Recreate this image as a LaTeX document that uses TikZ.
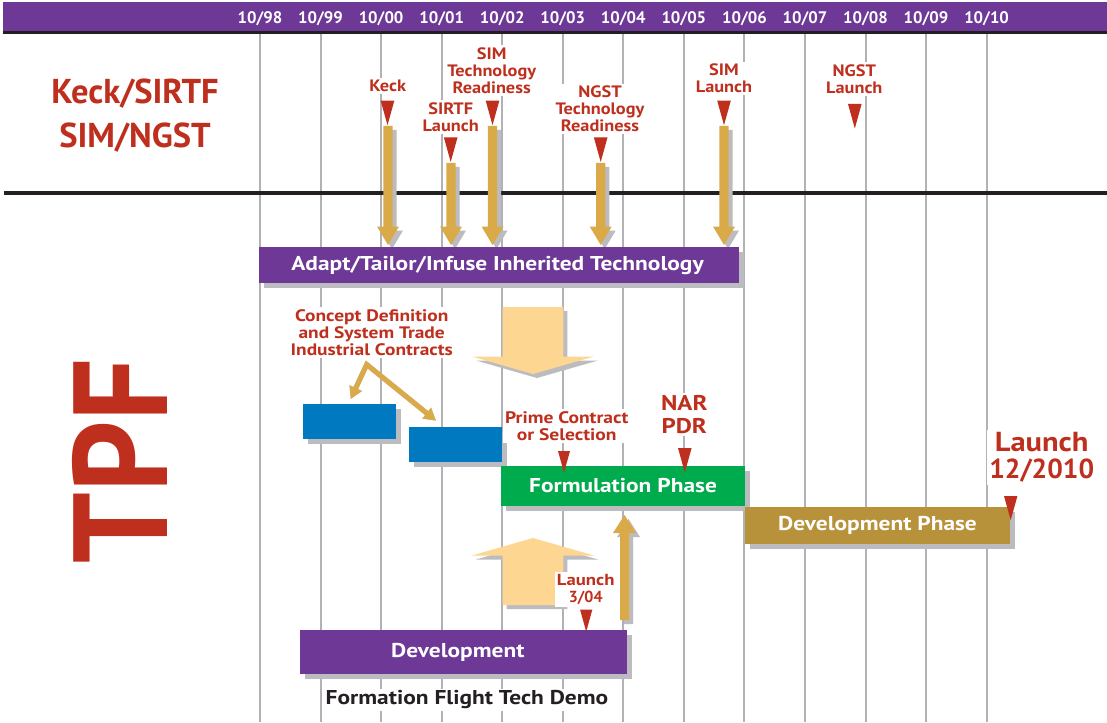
\documentclass[tikz,border=0pt]{standalone}
\usepackage{fontspec}
\setmainfont{PT Sans}
\newfontfamily\wf{PT Sans}[FakeStretch=1.17]
\newfontfamily\wfa{PT Sans}[FakeStretch=1.11]
\newfontfamily\tpffont{PT Sans}[FakeStretch=0.93]
\usetikzlibrary{arrows.meta,shadows}
\definecolor{tppurple}{RGB}{110,56,150}
\definecolor{tpred}{RGB}{190,47,29}
\definecolor{tpgold}{RGB}{218,170,72}
\definecolor{tppale}{RGB}{253,214,146}
\definecolor{tpblue}{RGB}{0,121,193}
\definecolor{tpgreen}{RGB}{0,171,78}
\definecolor{tpbrown}{RGB}{184,145,59}
\definecolor{shd}{RGB}{188,188,192}
\definecolor{gridc}{RGB}{178,178,182}
\definecolor{darkline}{RGB}{35,31,35}
\newcommand\fs[2]{\fontsize{#1}{#2}\selectfont}
\newcommand\tridown[3]{\fill[tpred] ({#1-#3/2},#2) -- ({#1+#3/2},#2) -- (#1,{#2+1.8*#3}) -- cycle;}
\newcommand\gdownpath[3]{({#1-4.7},#2) -- ({#1+4.7},#2) -- ({#1+4.7},{#3-18.5}) -- ({#1+11},{#3-18.5}) -- (#1,#3) -- ({#1-11},{#3-18.5}) -- ({#1-4.7},{#3-18.5}) -- cycle}
\newcommand\gdown[3]{\fill[shd,shift={(4,4)}] \gdownpath{#1}{#2}{#3}; \fill[tpgold] \gdownpath{#1}{#2}{#3};}
\begin{document}
\begin{tikzpicture}[x=1pt,y=-1pt,
  lab/.style={font=\wfa\bfseries\fs{16.5}{17}, text=tpred, fill=white, align=center, inner sep=2pt},
  bar/.style={fill=#1, text=white, font=\wf\bfseries\fs{20}{24}, inner sep=0pt,
    general shadow={fill=shd, shadow xshift=5pt, shadow yshift=-5pt}},
  gridline/.style={draw=gridc, line width=2pt},
  datelab/.style={text=white, font=\bfseries\fs{16.7}{20}, inner sep=0pt}]
\useasboundingbox (0,0) rectangle (1107,722);
\fill[white] (0,0) rectangle (1107,722);
% grid
\foreach \i in {0,...,12}{
  \coordinate (gt\i) at ({260+60.55*\i},34);
  \coordinate (gb\i) at ({260+60.55*\i},722);
  \draw[gridline] (gt\i) -- (gb\i);
}
% top band
\fill[tppurple] (3,2) rectangle (1107,31);
\fill[darkline] (3,31) rectangle (1107,34.5);
\foreach \lab [count=\i from 0] in {10/98,10/99,10/00,10/01,10/02,10/03,10/04,10/05,10/06,10/07,10/08,10/09,10/10}{
  \node[datelab] (date\i) at ({260+60.55*\i},18.5) {\lab};
}
% separator
\draw[darkline, line width=3.5pt] (4,193) -- (1107,193);
% left titles
\node[text=tpred, font=\bfseries\fs{34.5}{44}, align=center] (ks) at (135,116) {Keck/SIRTF\\SIM/NGST};
\node[text=tpred, font=\tpffont\bfseries\fs{134}{140}, rotate=90, inner sep=0pt] (tpf) at (120,461) {TPF};
% top milestone labels
\node[lab] (keck) at (387.7,86.3) {Keck};
\node[lab] (sirtf) at (450.7,117) {SIRTF\\Launch};
\node[lab] (simtr) at (491.7,70.5) {SIM\\Technology\\Readiness};
\node[lab] (ngsttr) at (600,109) {NGST\\Technology\\Readiness};
\node[lab] (siml) at (724,78.5) {SIM\\Launch};
\node[lab] (ngstl) at (854.3,79) {NGST\\Launch};
\tridown{387.5}{100.7}{13.6}
\tridown{450.7}{137.5}{13.6}
\tridown{492.5}{100.7}{13.6}
\tridown{600.7}{137.5}{13.6}
\tridown{724}{100.7}{13.6}
\tridown{854.8}{104}{13.6}
% gold arrows down
\gdown{388}{126}{245}
\gdown{451}{163}{245}
\gdown{492.5}{126}{245}
\gdown{600.7}{163}{245}
\gdown{724}{126}{245}
% Adapt bar
\node[bar=tppurple, minimum width=479.4pt, minimum height=36pt] (adapt) at (499,265.3) {Adapt/Tailor/Infuse Inherited Technology\kern3pt};
% concept label and V arrows
\node[lab, font=\wf\bfseries\fs{16.6}{17.3}] (concept) at (371.7,332.5) {Concept Definition\\and System Trade\\Industrial Contracts};
\coordinate (vtx) at (366.7,364.5);
\coordinate (vl) at (350.7,399);
\coordinate (vr) at (436,420.7);
\begin{scope}[shift={(3,3)}]
\draw[shd, line width=5pt, {Triangle[width=13pt,length=12pt]}-{Triangle[width=13pt,length=12pt]}] (vl) -- (vtx) -- (vr);
\end{scope}
\draw[tpgold, line width=5pt, {Triangle[width=13pt,length=12pt]}-{Triangle[width=13pt,length=12pt]}] (vl) -- (vtx) -- (vr);
% pale arrows
\fill[shd, shift={(4,4)}] (502.5,307) -- (563.3,307) -- (563.3,356.5) -- (594,356.5) -- (533,374) -- (472,356.5) -- (502.5,356.5) -- cycle;
\fill[tppale] (502.5,307) -- (563.3,307) -- (563.3,356.5) -- (594,356.5) -- (533,374) -- (472,356.5) -- (502.5,356.5) -- cycle;
\fill[shd, shift={(4,4)}] (502.5,605) -- (563.3,605) -- (563.3,555.5) -- (594,555.5) -- (533,538) -- (472,555.5) -- (502.5,555.5) -- cycle;
\fill[tppale] (502.5,605) -- (563.3,605) -- (563.3,555.5) -- (594,555.5) -- (533,538) -- (472,555.5) -- (502.5,555.5) -- cycle;
% blue boxes
\node[bar=tpblue, minimum width=92.4pt, minimum height=34.7pt] (blue1) at (349.5,421.3) {};
\node[bar=tpblue, minimum width=92.4pt, minimum height=34.7pt] (blue2) at (455.5,444.3) {};
% labels middle
\node[lab, font=\wf\bfseries\fs{16.7}{17.3}] (prime) at (566.7,426) {Prime Contract\\or Selection};
\node[lab, font=\wf\bfseries\fs{21.3}{23.4}] (nar) at (684.3,414.5) {NAR\\PDR};
\node[lab, font=\bfseries\fs{27.5}{27.3}] (launch) at (1041.7,457.5) {{\wfa Launch}\\12/2010};
\node[lab, font=\wf\bfseries\fs{16}{17.6}] (l304) at (585.7,589.5) {Launch\\{\normalfont\bfseries 3/04}};
% phases
\node[bar=tpgreen, minimum width=244pt, minimum height=40pt] (form) at (623,486) {Formulation Phase};
\node[bar=tpbrown, minimum width=265pt, minimum height=37.6pt] (devph) at (877.5,525.5) {Development Phase};
\node[bar=tppurple, minimum width=326.7pt, minimum height=44pt] (dev) at (463.3,652) {Development\kern11pt};
% triangles on phases
\tridown{564}{451}{12}
\tridown{684.8}{448}{13.6}
\tridown{1010.7}{496}{13.4}
\tridown{586.2}{609.5}{12.3}
% gold up arrow
\fill[shd, shift={(4,4)}] (620,620) -- (629,620) -- (629,533) -- (636,533) -- (624.5,515) -- (613,533) -- (620,533) -- cycle;
\fill[tpgold] (620,620) -- (629,620) -- (629,533) -- (636,533) -- (624.5,515) -- (613,533) -- (620,533) -- cycle;
% bottom label
\node[font=\wf\bfseries\fs{20}{24}, text=darkline, fill=white, inner sep=2pt] (ffd) at (467,700) {Formation Flight Tech Demo};
\end{tikzpicture}
\end{document}
